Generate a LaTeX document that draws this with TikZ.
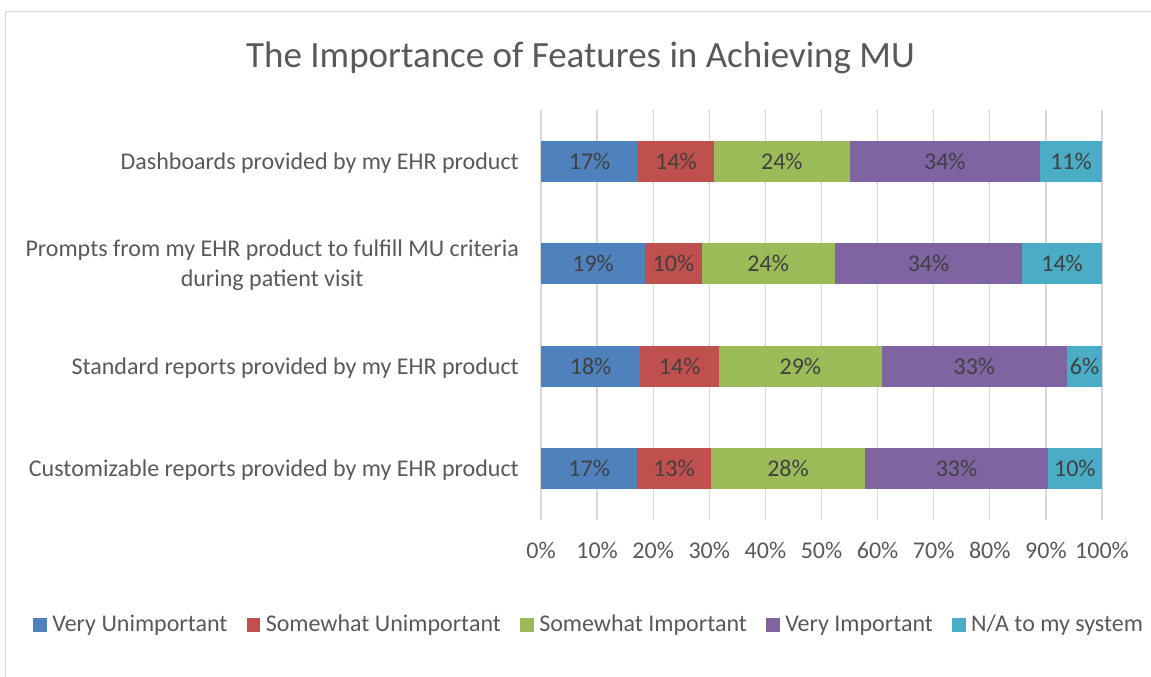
\documentclass[tikz,border=0pt]{standalone}
\usepackage{fontspec}
\setmainfont{Carlito}
\usetikzlibrary{positioning}
\definecolor{vu}{HTML}{4F81BD}
\definecolor{su}{HTML}{C0504D}
\definecolor{si}{HTML}{9BBB59}
\definecolor{vi}{HTML}{8064A2}
\definecolor{na}{HTML}{4BACC6}
\definecolor{gridgray}{HTML}{D9D9D9}
\definecolor{axistext}{HTML}{595959}
\definecolor{labeltext}{HTML}{404040}
\tikzset{
  gridline/.style={draw=gridgray, line width=1.3pt},
  titletext/.style={text=axistext, font=\fontsize{37}{44}\selectfont, inner sep=0, anchor=base},
  catlabel/.style={text=axistext, font=\fontsize{24}{30}\selectfont, inner sep=0, anchor=base east, align=center},
  ticklabel/.style={text=axistext, font=\fontsize{24}{30}\selectfont, inner sep=0, anchor=base},
  datalabel/.style={text=labeltext, font=\fontsize{24}{30}\selectfont, inner sep=0},
  legkey/.style={minimum size=13.5pt, inner sep=0},
  legtext/.style={text=axistext, font=\fontsize{24}{30}\selectfont, inner sep=0, text height=17pt, text depth=5pt}
}
\begin{document}
\begin{tikzpicture}[x=1pt, y=-1pt]
            \useasboundingbox (0,0) rectangle (1151,677);
            \fill[white] (0,0) rectangle (1151,677);
            \draw[gridgray, line width=1.2pt] (5.5,700) -- (5.5,11.5) -- (1170,11.5);
            \node[titletext] (title) at (580.5,67) {The Importance of Features in Achieving MU};
            \foreach \p in {0,10,...,100} {
              \draw[gridline] ({541+5.61*\p},110) -- ({541+5.61*\p},520);
              \node[ticklabel] (tick\p) at ({541+5.61*\p},558) {\p\%};
            }
            \foreach \r/\s/\a/\b/\lab/\col in {
                1/1/0/17.34/17/vu, 1/2/17.34/30.84/14/su, 1/3/30.84/55.03/24/si, 1/4/55.03/88.95/34/vi, 1/5/88.95/100/11/na,
                2/1/0/18.59/19/vu, 2/2/18.59/28.64/10/su, 2/3/28.64/52.35/24/si, 2/4/52.35/85.79/34/vi, 2/5/85.79/100/14/na,
                3/1/0/17.70/18/vu, 3/2/17.70/31.73/14/su, 3/3/31.73/60.73/29/si, 3/4/60.73/93.76/33/vi, 3/5/93.76/100/6/na,
                4/1/0/17.17/17/vu, 4/2/17.17/30.25/13/su, 4/3/30.25/57.81/28/si, 4/4/57.81/90.32/33/vi, 4/5/90.32/100/10/na} {
              \pgfmathsetmacro\yc{58.75+102.5*\r}
              \fill[\col] ({541+5.61*\a},\yc-20.5) rectangle ({541+5.61*\b},\yc+20.5);
              \node[datalabel] (val\r\s) at ({541+5.61*(\a+\b)/2},\yc) {\lab\%};
            }
            \node[catlabel] (cat1) at (519,169) {Dashboards provided by my EHR product};
            \node[catlabel] (cat2) at (519,286.5) {Prompts from my EHR product to fulfill MU criteria\\during patient visit};
            \node[catlabel] (cat3) at (519,374) {Standard reports provided by my EHR product};
            \node[catlabel] (cat4) at (519,476.5) {Customizable reports provided by my EHR product};
            \node[legkey, fill=vu] (key1) at (40.2,625) {};
            \node[legtext, right=5pt of key1] (leg1) {Very Unimportant};
            \node[legkey, fill=su, right=19pt of leg1] (key2) {};
            \node[legtext, right=5pt of key2] (leg2) {Somewhat Unimportant};
            \node[legkey, fill=si, right=19pt of leg2] (key3) {};
            \node[legtext, right=5pt of key3] (leg3) {Somewhat Important};
            \node[legkey, fill=vi, right=19pt of leg3] (key4) {};
            \node[legtext, right=5pt of key4] (leg4) {Very Important};
            \node[legkey, fill=na, right=19pt of leg4] (key5) {};
            \node[legtext, right=5pt of key5] (leg5) {N/A to my system};
        \end{tikzpicture}
\end{document}
